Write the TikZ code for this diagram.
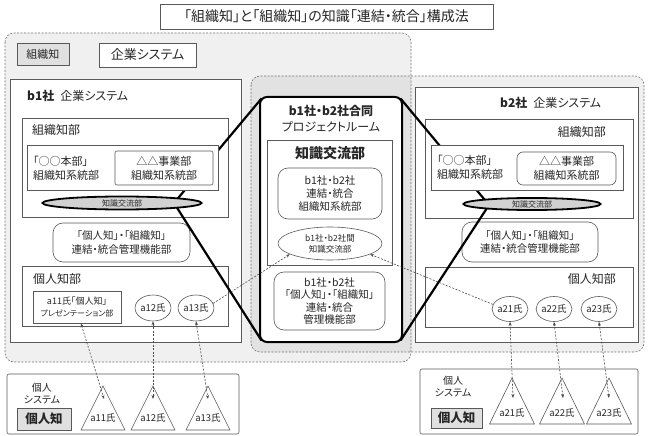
\documentclass[tikz,border=0pt]{standalone}
\usepackage{fontspec}
\setmainfont[RawFeature=+palt]{Noto Sans CJK JP}
\usetikzlibrary{shapes.geometric,arrows.meta}

\newcommand{\fsz}[2]{\fontsize{#1}{#2}\selectfont}

\begin{document}
\begin{tikzpicture}[x=1pt,y=-1pt,
    every node/.style={text=black!85, inner sep=0pt},
    frame/.style={draw=black!65, fill=white, line width=0.6pt},
    plate/.style={frame, rounded corners=2pt},
    pill/.style={frame, rounded corners=10pt, align=center},
    area/.style={draw=black!55, dash pattern=on 2pt off 1.5pt, line width=0.6pt, rounded corners=9pt},
    zoomline/.style={line width=2.2pt, black},
    bubble/.style={ellipse, draw=black!65, fill=white, line width=0.6pt, align=center},
    hub/.style={ellipse, draw=black, fill=black!18, line width=1.8pt},
    peer/.style={dash pattern=on 2pt off 1.5pt, black!70, line width=0.6pt},
    tip/.style={-{Stealth[length=4pt,width=3pt]}},
    tips/.style={{Stealth[length=4pt,width=3pt]}-{Stealth[length=4pt,width=3pt]}},
  ]
  \useasboundingbox (0,0) rectangle (649,436);

  % gray areas
  \fill[black, fill opacity=0.06, rounded corners=9pt] (5,33) rectangle (411,362);
  \fill[black, fill opacity=0.06, rounded corners=9pt] (251,76) rectangle (644,352);
  \draw[area] (5,33) rectangle (411,362);
  \draw[area] (251,76) rectangle (644,352);

  % title and tags
  \node[frame, minimum width=333pt, minimum height=25pt, font=\fsz{14}{15}] (title) at (326.5,16.5)
    {「組織知」と「組織知」の知識「連結・統合」構成法};
  \node[frame, fill=black!12, minimum width=52pt, minimum height=22pt, font=\fsz{11}{13}] (orgtag) at (43,54) {組織知};
  \node[frame, minimum width=97pt, minimum height=24pt, font=\fsz{13}{15}] (systag) at (147.5,55) {企業システム};

  % b1 company
  \node[frame, minimum width=231pt, minimum height=263pt] (b1sys) at (125.5,210.5) {};
  \node[anchor=west, font=\fsz{12}{14}] (b1head) at (27,96) {\textbf{b1社}\hspace{6pt}企業システム};
  \node[frame, minimum width=206pt, minimum height=99pt] (b1org) at (125,167.5) {};
  \node[anchor=west, font=\fsz{12}{14}] (b1orglbl) at (32,130) {組織知部};
  \node[pill, minimum width=137pt, minimum height=39pt, font=\fsz{10.5}{13.5}] (b1mgmt) at (121.5,242.5)
    {「個人知」・「組織知」\\連結・統合管理機能部};
  \node[frame, minimum width=206pt, minimum height=60pt] (b1ind) at (125,296) {};
  \node[anchor=west, font=\fsz{12}{14}] (b1indlbl) at (33,279) {個人知部};

  % b2 company
  \node[frame, minimum width=223pt, minimum height=255pt] (b2sys) at (526.5,214.5) {};
  \node[anchor=west, font=\fsz{12}{14}] (b2head) at (500,103) {\textbf{b2社}\hspace{6pt}企業システム};
  \node[frame, minimum width=208pt, minimum height=99pt] (b2org) at (529,168.5) {};
  \node[anchor=east, font=\fsz{12}{14}] (b2orglbl) at (606,132) {組織知部};
  \node[pill, minimum width=136pt, minimum height=40pt, font=\fsz{10.5}{13.5}] (b2mgmt) at (530,242)
    {「個人知」・「組織知」\\連結・統合管理機能部};
  \node[frame, minimum width=208pt, minimum height=60pt] (b2ind) at (529,297) {};
  \node[anchor=east, font=\fsz{12}{14}] (b2indlbl) at (616,279) {個人知部};

  % joint project room
  \node[draw, fill=white, line width=2pt, rounded corners=7pt, minimum width=142pt, minimum height=245pt] (proj) at (331,219.5) {};

  % zoom lines
  \coordinate (b1focus) at (174,203);
  \coordinate (b2focus) at (489,205);
  \draw[zoomline] (b1focus) -- ([shift={(2.5pt,-2.5pt)}]proj.north west);
  \draw[zoomline] (b1focus) -- ([shift={(2.5pt,2.5pt)}]proj.south west);
  \draw[zoomline] (b2focus) -- ([shift={(-2.5pt,-2.5pt)}]proj.north east);
  \draw[zoomline] (b2focus) -- ([shift={(-2.5pt,2.5pt)}]proj.south east);

  % project room contents
  \node[align=center, font=\fsz{12}{16.5}] (projlbl) at (331,118.5) {\textbf{b1社・b2社合同}\\プロジェクトルーム};
  \node[frame, minimum width=125pt, minimum height=125pt] (xchg) at (329.5,202.5) {};
  \node[font=\bfseries\fsz{14}{16}] (xchglbl) at (330,153) {知識交流部};
  \node[pill, minimum width=104pt, minimum height=51pt, font=\fsz{10.5}{13}] (merge) at (330,193.5)
    {b1社・b2社\\連結・統合\\組織知系統部};
  \node[bubble, minimum width=104pt, minimum height=33pt, font=\fsz{8.5}{11}] (crossex) at (330,243.5)
    {b1社・b2社間\\知識交流部};
  \node[pill, minimum width=111pt, minimum height=58pt, font=\fsz{10.5}{12.5}] (mgmt) at (329.5,301)
    {b1社・b2社\\「個人知」・「組織知」\\連結・統合\\管理機能部};

  % b1 organisational units
  \node[frame, minimum width=191pt, minimum height=45pt] (b1inner) at (122.5,167.5) {};
  \node[anchor=west, align=left, font=\fsz{11}{14}] (b1hq) at (33,168) {「○○本部」\\組織知系統部};
  \node[plate, minimum width=98pt, minimum height=34pt, align=center, font=\fsz{11}{14}] (b1div) at (164,168)
    {△△事業部\\組織知系統部};
  \node[hub, minimum width=159pt, minimum height=13pt, font=\fsz{8}{9}] (b1ex) at (122,203) {知識交流部};

  % b1 persons
  \node[frame, minimum width=88pt, minimum height=32pt, align=center] (a11) at (77,307)
    {{\fsz{9}{12}a11氏「個人知」}\\{\fsz{8}{12}プレゼンテーション部}};
  \node[bubble, minimum width=34pt, minimum height=26pt, font=\fsz{9.5}{11}] (a12) at (153,308) {a12氏};
  \node[bubble, minimum width=33pt, minimum height=26pt, font=\fsz{9.5}{11}] (a13) at (196,308) {a13氏};

  % b2 organisational units
  \node[frame, minimum width=192pt, minimum height=45pt] (b2inner) at (527,167.5) {};
  \node[anchor=west, align=left, font=\fsz{11}{14}] (b2hq) at (437,167) {「○○本部」\\組織知系統部};
  \node[frame, rounded corners=6pt, minimum width=99pt, minimum height=33pt, align=center, font=\fsz{11}{14}] (b2div) at (566.5,168.5)
    {△△事業部\\組織知系統部};
  \node[hub, minimum width=137pt, minimum height=12pt, font=\fsz{8}{9}] (b2ex) at (532,204) {知識交流部};

  % b2 persons
  \node[bubble, minimum width=33pt, minimum height=25pt, font=\fsz{9.5}{11}] (a21) at (510,309) {a21氏};
  \node[bubble, minimum width=31pt, minimum height=25pt, font=\fsz{9.5}{11}] (a22) at (554,309) {a22氏};
  \node[bubble, minimum width=33pt, minimum height=25pt, font=\fsz{9.5}{11}] (a23) at (599,309) {a23氏};

  % personal systems
  \node[plate, minimum width=232pt, minimum height=60pt] (b1own) at (123,404) {};
  \node[align=center, font=\fsz{10}{12}] (b1ownlbl) at (42,393.5) {個人\\システム};
  \node[frame, fill=black!12, minimum width=54pt, minimum height=22pt, font=\bfseries\fsz{12.5}{14}] (b1tag) at (44,419) {個人知};
  \node[plate, minimum width=218pt, minimum height=65pt] (b2own) at (529,401.5) {};
  \node[align=center, font=\fsz{10}{12}] (b2ownlbl) at (453,386.5) {個人\\システム};
  \node[frame, fill=black!12, minimum width=51pt, minimum height=20pt, font=\bfseries\fsz{12.5}{14}] (b2tag) at (456.5,418) {個人知};

  % triangles
  \foreach \tname/\tx/\lbl in {t11/103/a11氏, t12/153/a12氏, t13/208/a13氏}{
    \draw[frame] (\tx,386) -- ++(22,44) -- ++(-44,0) -- cycle;
    \node[font=\fsz{9.5}{11}] (\tname) at (\tx,418) {\lbl};
  }
  \foreach \tname/\tx/\lbl in {t21/512/a21氏, t22/562/a22氏, t23/609/a23氏}{
    \draw[frame] (\tx,378) -- ++(22.5,46) -- ++(-45,0) -- cycle;
    \node[font=\fsz{9.5}{11}] (\tname) at (\tx,413) {\lbl};
  }
  \coordinate (t11tip) at (104,399);
  \coordinate (t12tip) at (153,399);
  \coordinate (t13tip) at (208,399);
  \coordinate (t21tip) at (513,398);
  \coordinate (t22tip) at (563,398);
  \coordinate (t23tip) at (609,398);

  % person links
  \draw[peer, tips] ([xshift=4pt]a11.south) -- (t11tip);
  \draw[peer, tips] (a12.south) -- (t12tip);
  \draw[peer, tips] (a13.south) -- (t13tip);
  \draw[peer, tips] (a21.south) -- (t21tip);
  \draw[peer, tips] (a22.south) -- (t22tip);
  \draw[peer, tips] (a23.south) -- (t23tip);
  \draw[peer, tip] (a13.15) -- (crossex.195);
  \draw[peer, tip] (a21.165) -- (crossex.345);
\end{tikzpicture}
\end{document}
